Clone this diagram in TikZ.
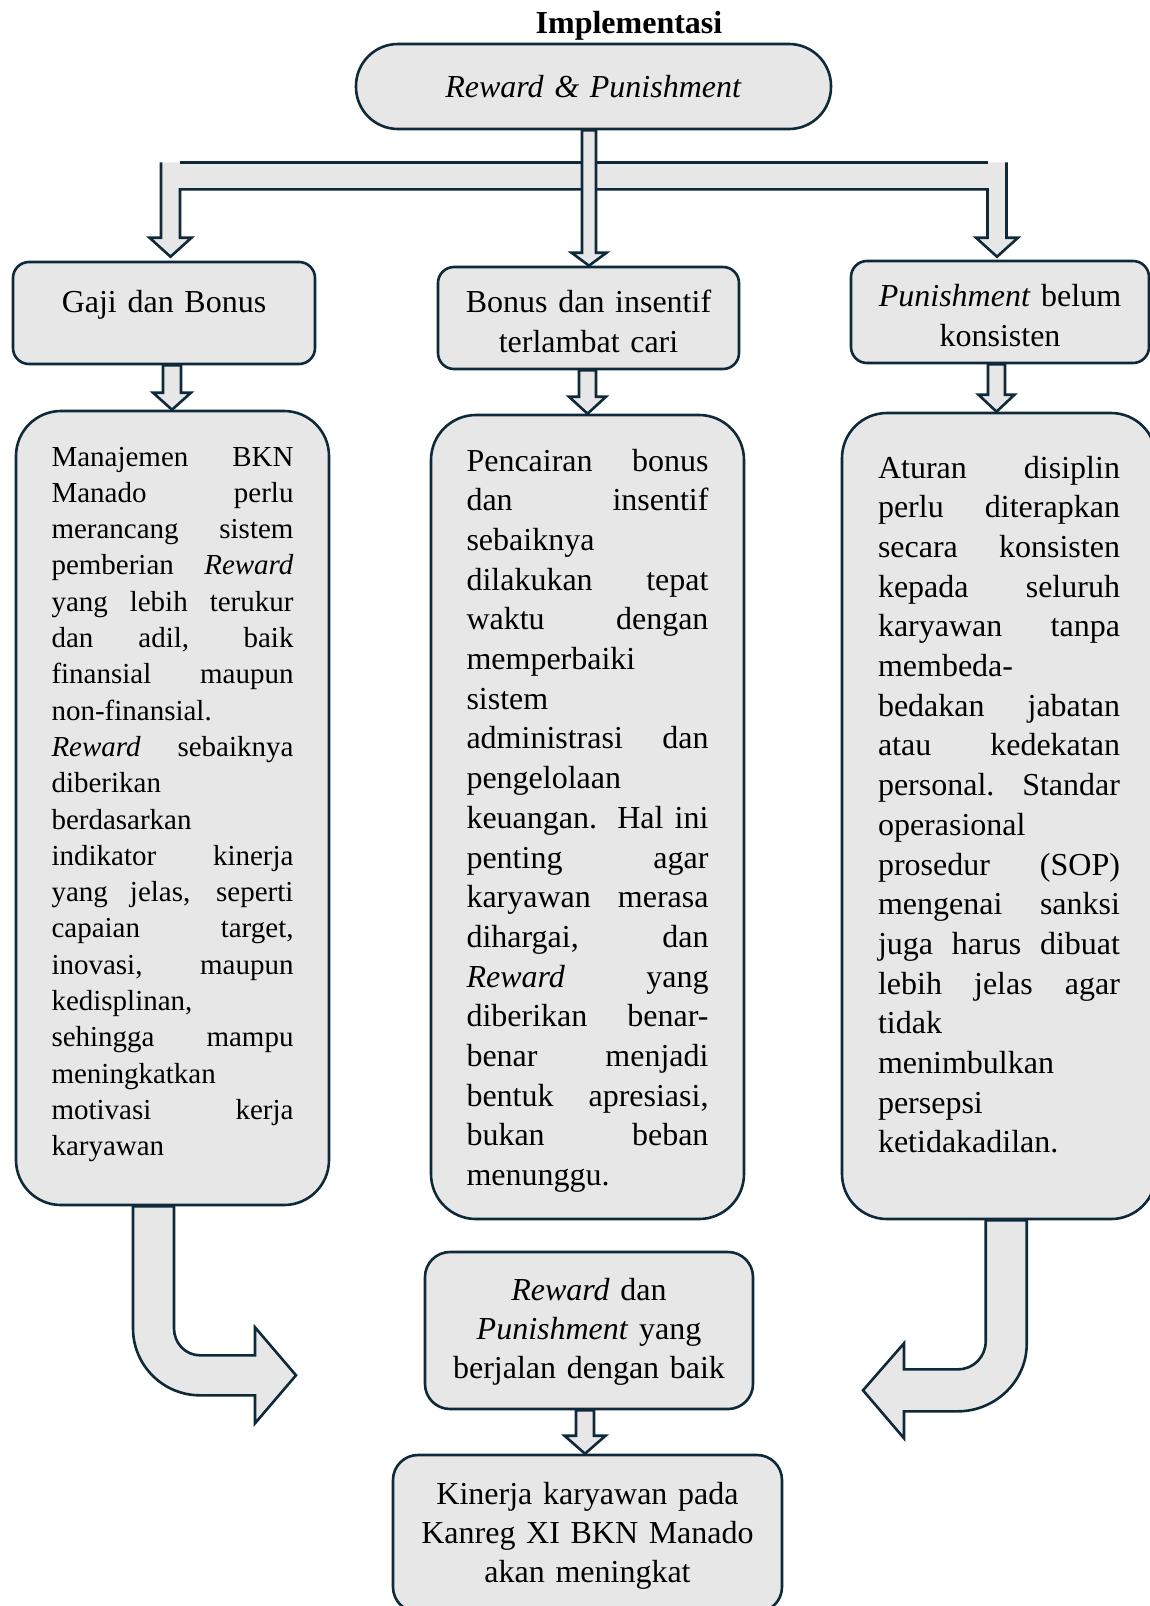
\documentclass[tikz,border=0pt]{standalone}
\usepackage{fontspec}
\setmainfont{Liberation Serif}
\usetikzlibrary{calc}
\definecolor{garis}{RGB}{14,41,57}
\definecolor{isi}{RGB}{231,231,231}
\tolerance=10000 \hbadness=10000
\hyphenpenalty=10000 \exhyphenpenalty=10000
\newcommand{\besar}{\fontsize{32}{39.7}\selectfont}
\newcommand{\kecil}{\fontsize{29}{36.3}\selectfont}
\tikzset{
  kotak/.style={draw=garis, fill=isi, line width=2.6pt, inner ysep=0pt},
  judulbox/.style={kotak, rounded corners=16pt, font={\fontsize{32}{40}\selectfont}, text width=270pt, align=center},
  isian/.style={kotak, rounded corners=45pt, text width=242pt, inner xsep=35.5pt, align=justify},
  hasilbox/.style={kotak, rounded corners=25pt, font={\fontsize{32}{39}\selectfont}, align=center},
  panah/.style={draw=garis, fill=isi, line width=2.6pt, line join=miter},
  garispanah/.style={draw=garis, line width=2.6pt, line join=miter}
}
% panah blok lurus: dari, ke, geser x, setengah batang, setengah kepala, panjang kepala
\newcommand{\blokpanah}[6]{%
  \draw[panah] let \p1=(#1.south), \p2=(#2.north) in
    ({\x1+#3pt-#4pt},\y1) -- ({\x1+#3pt+#4pt},\y1)
    -- ({\x1+#3pt+#4pt},{\y2+#6pt}) -- ({\x1+#3pt+#5pt},{\y2+#6pt})
    -- ({\x1+#3pt},\y2) -- ({\x1+#3pt-#5pt},{\y2+#6pt})
    -- ({\x1+#3pt-#4pt},{\y2+#6pt}) -- cycle;}
\begin{document}
\begin{tikzpicture}[x=1pt,y=-1pt]
\useasboundingbox (0,0) rectangle (1150,1606);

% judul dan kotak atas
\node[font=\besar\bfseries, anchor=base] (judul) at (629,33) {Implementasi};
\node[kotak, rounded corners=42pt, font=\besar, text width=400pt, inner xsep=37.5pt,
  text height=53pt, text depth=32pt, align=center] (rp) at (593.5,86.5)
  {\textit{Reward \& Punishment}};

% baris pertama
\node[judulbox, inner xsep=16pt, text height=50pt, text depth=52pt] (gaji) at (164,313) {Gaji dan Bonus};
\node[judulbox, inner xsep=15.5pt, text height=45pt, text depth=57pt] (cair) at (588.5,318) {Bonus dan insentif\\terlambat cari};
\node[judulbox, inner xsep=14pt, text height=45pt, text depth=57pt] (pun) at (1000,312) {\textit{Punishment} belum\\konsisten};

% baris kedua
\node[isian, font=\kecil, text height=55pt, text depth=739pt] (saranA) at (172.5,808) {%
Manajemen BKN\linebreak
Manado perlu\linebreak
merancang sistem\linebreak
pemberian \textit{Reward}\linebreak
yang lebih terukur\linebreak
dan adil, baik\linebreak
finansial maupun\linebreak
non-finansial.\linebreak
\textit{Reward} sebaiknya\linebreak
diberikan\linebreak
berdasarkan\linebreak
indikator kinerja\linebreak
yang jelas, seperti\linebreak
capaian target,\linebreak
inovasi, maupun\linebreak
kedisplinan,\linebreak
sehingga mampu\linebreak
meningkatkan\linebreak
motivasi kerja\linebreak
karyawan};
\node[isian, font=\besar, text height=56pt, text depth=748pt] (saranB) at (587.5,817) {%
Pencairan bonus\linebreak
dan insentif\linebreak
sebaiknya\linebreak
dilakukan tepat\linebreak
waktu dengan\linebreak
memperbaiki\linebreak
sistem\linebreak
administrasi dan\linebreak
pengelolaan\linebreak
keuangan. Hal ini\linebreak
penting agar\linebreak
karyawan merasa\linebreak
dihargai, dan\linebreak
\textit{Reward} yang\linebreak
diberikan benar-\linebreak
benar menjadi\linebreak
bentuk apresiasi,\linebreak
bukan beban\linebreak
menunggu.};
\node[isian, font=\besar, inner xsep=36pt, text height=65pt, text depth=741pt] (saranC) at (999,816) {%
Aturan disiplin\linebreak
perlu diterapkan\linebreak
secara konsisten\linebreak
kepada seluruh\linebreak
karyawan tanpa\linebreak
membeda-\linebreak
bedakan jabatan\linebreak
atau kedekatan\linebreak
personal. Standar\linebreak
operasional\linebreak
prosedur (SOP)\linebreak
mengenai sanksi\linebreak
juga harus dibuat\linebreak
lebih jelas agar\linebreak
tidak\linebreak
menimbulkan\linebreak
persepsi\linebreak
ketidakadilan.};

% hasil
\node[hasilbox, text width=300pt, inner xsep=14pt, text height=48pt, text depth=109pt] (hasil1) at (589,1330.5)
  {\textit{Reward} dan\\\textit{Punishment} yang\\berjalan dengan baik};
\node[hasilbox, text width=360pt, inner xsep=14.5pt, text height=49pt, text depth=108pt] (hasil2) at (587.5,1533.5)
  {Kinerja karyawan pada\\Kanreg XI BKN Manado\\akan meningkat};

% cabang dari kotak atas (ujung atas cabang tanpa garis)
\fill[isi] let \p1=(gaji.north), \p2=(pun.north), \p3=(rp.south) in
  ({\x1-3pt},{\y3-32pt}) -- ({\x1-3pt},{\y1+23pt}) -- ({\x1-14.5pt},{\y1+23pt})
  -- ({\x1+6.5pt},{\y1+4pt}) -- ({\x1+27.5pt},{\y1+23pt}) -- ({\x1+16pt},{\y1+23pt})
  -- ({\x1+16pt},{\y3-59pt}) -- ({\x2-12.5pt},{\y3-59pt}) -- ({\x2-12.5pt},{\y2+22pt})
  -- ({\x2-24pt},{\y2+22pt}) -- ({\x2-3pt},{\y2+3pt}) -- ({\x2+18pt},{\y2+22pt})
  -- ({\x2+6.5pt},{\y2+22pt}) -- ({\x2+6.5pt},{\y3-32pt}) -- cycle;
\draw[garispanah] let \p1=(gaji.north), \p2=(pun.north), \p3=(rp.south) in
  ({\x1-3pt},{\y3-32pt}) -- ({\x1-3pt},{\y1+23pt}) -- ({\x1-14.5pt},{\y1+23pt})
  -- ({\x1+6.5pt},{\y1+4pt}) -- ({\x1+27.5pt},{\y1+23pt}) -- ({\x1+16pt},{\y1+23pt})
  -- ({\x1+16pt},{\y3-59pt}) -- ({\x2-12.5pt},{\y3-59pt}) -- ({\x2-12.5pt},{\y2+22pt})
  -- ({\x2-24pt},{\y2+22pt}) -- ({\x2-3pt},{\y2+3pt}) -- ({\x2+18pt},{\y2+22pt})
  -- ({\x2+6.5pt},{\y2+22pt}) -- ({\x2+6.5pt},{\y3-32pt});
\draw[garispanah] let \p1=(gaji.north), \p2=(pun.north), \p3=(rp.south) in
  ({\x1+16pt},{\y3-32pt}) -- ({\x2-12.5pt},{\y3-32pt});
\blokpanah{rp}{cair}{-4.5}{7}{17.5}{13}

% panah antar kotak
\blokpanah{gaji}{saranA}{8}{9}{19}{17}
\blokpanah{cair}{saranB}{-1}{8.5}{18.5}{17}
\blokpanah{pun}{saranC}{-3.5}{8.5}{18}{17}
\blokpanah{hasil1}{hasil2}{-4}{9}{20.5}{18}

% panah belok
\begin{scope}[shift={(saranA.south)}]
  \draw[panah] (-39.5,0) -- (-39.5,122) .. controls (-39.5,159) and (-9.5,189) .. (27.5,189)
    -- (82.5,189) -- (82.5,217) -- (123.5,169) -- (82.5,121) -- (82.5,149) -- (27.5,149)
    .. controls (13.1,149) and (1.5,137) .. (1.5,122) -- (1.5,0) -- cycle;
\end{scope}
\begin{scope}[shift={(saranC.south)}]
  \draw[panah] (27.7,0) -- (27.7,124) .. controls (27.7,161) and (-4,191) .. (-41,191)
    -- (-95,191) -- (-95,218) -- (-136,170) -- (-95,123) -- (-95,149) -- (-41,149)
    .. controls (-25.5,149) and (-13.3,136.5) .. (-13.3,121) -- (-13.3,0) -- cycle;
\end{scope}
\end{tikzpicture}
\end{document}
